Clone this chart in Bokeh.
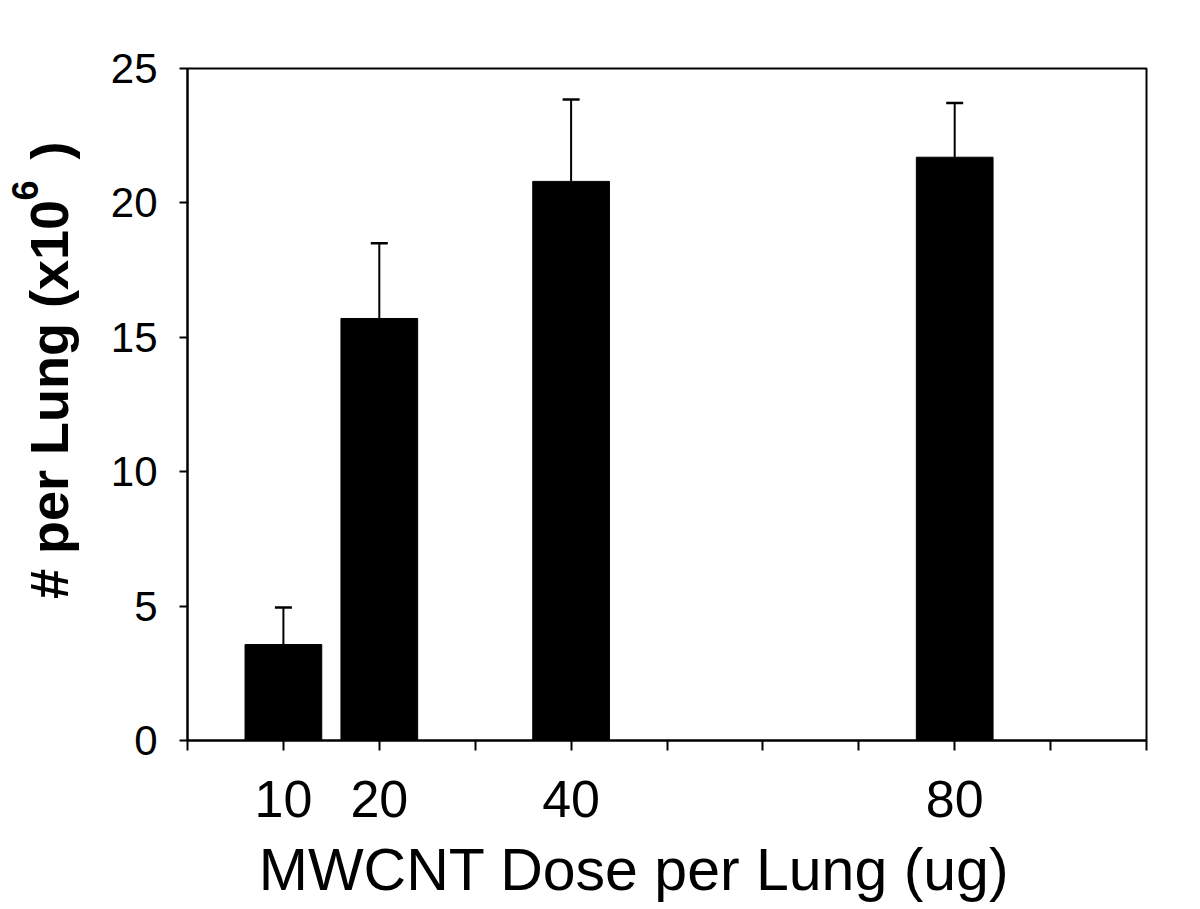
from bokeh.plotting import figure
from bokeh.layouts import row
from bokeh.models import Range1d, FixedTicker, Whisker, ColumnDataSource, TeeHead, Label
from bokeh.embed import file_html
from bokeh.resources import INLINE
import math

# Data
doses = [10, 20, 40, 80]
means = [3.57, 15.7, 20.8, 21.7]
upper = [4.95, 18.5, 23.85, 23.72]
x_ticks = [0, 10, 20, 30, 40, 50, 60, 70, 80, 90, 100]
x_labels = {0: "", 10: "10", 20: "20", 30: "", 40: "40", 50: "", 60: "", 70: "", 80: "80", 90: "", 100: ""}
y_ticks = [0, 5, 10, 15, 20, 25]
x_title = "MWCNT Dose per Lung (ug)"
y_title_main = "# per Lung (x10"
y_title_sup = "6"
y_title_end = ")"

src = ColumnDataSource(data=dict(x=doses, top=means, upper=upper))

FONT = "Liberation Sans"
H = 907
YW = 100
FRAME_TOP = 68
FRAME_BOTTOM = 740

# narrow panel holding the rotated y-axis title (with superscript);
# its frame is aligned with the main plot's frame, range set so that y = H - pixel row
yfig = figure(width=YW, height=H, output_backend="svg", toolbar_location=None,
              x_range=Range1d(0, YW), y_range=Range1d(H - FRAME_BOTTOM, H - FRAME_TOP),
              x_axis_location=None, y_axis_location=None,
              min_border=0, min_border_left=0, min_border_right=0,
              min_border_top=FRAME_TOP, min_border_bottom=H - FRAME_BOTTOM)
yfig.grid.visible = False
yfig.outline_line_color = None
yfig.background_fill_color = "white"
yfig.border_fill_color = "white"
yfig.add_layout(Label(x=48, y=H - 399, text=y_title_main, angle=math.pi / 2, text_font=FONT,
                      text_font_size="54px", text_font_style="bold", text_color="black",
                      text_align="center", text_baseline="middle"))
yfig.add_layout(Label(x=24, y=H - 190, text=y_title_sup, angle=math.pi / 2, text_font=FONT,
                      text_font_size="36px", text_font_style="bold", text_color="black",
                      text_align="center", text_baseline="middle"))
yfig.add_layout(Label(x=49, y=H - 150, text=y_title_end, angle=math.pi / 2, text_font=FONT,
                      text_font_size="54px", text_font_style="bold", text_color="black",
                      text_align="center", text_baseline="middle"))

p = figure(width=1184 - YW, height=H, output_backend="svg", toolbar_location=None,
           x_range=Range1d(0, 100), y_range=Range1d(0, 25),
           min_border_left=187 - YW, min_border_right=38,
           min_border_top=FRAME_TOP, min_border_bottom=H - FRAME_BOTTOM)

p.vbar(x="x", top="top", bottom=0, width=8, source=src, fill_color="black", line_color="black")

w = Whisker(base="x", lower="top", upper="upper", source=src, dimension="height",
            line_color="black", line_width=2,
            upper_head=TeeHead(size=17, line_color="black", line_width=2.5), lower_head=None)
p.add_layout(w)

p.grid.visible = False
p.outline_line_color = "black"
p.outline_line_width = 2
p.background_fill_color = "white"
p.border_fill_color = "white"

xa = p.xaxis[0]
xa.ticker = FixedTicker(ticks=x_ticks)
xa.major_label_overrides = x_labels
xa.minor_tick_line_color = None
xa.major_tick_in = 0
xa.major_tick_out = 10
xa.major_tick_line_width = 2
xa.axis_line_width = 2
xa.axis_line_color = "black"
xa.major_label_text_font = FONT
xa.major_label_text_font_size = "52px"
xa.major_label_text_color = "black"
xa.major_label_standoff = 30
xa.axis_label = x_title + "\u00a0" * 4
xa.axis_label_text_font = FONT
xa.axis_label_text_font_size = "59px"
xa.axis_label_text_font_style = "normal"
xa.axis_label_text_color = "black"
xa.axis_label_standoff = 17

ya = p.yaxis[0]
ya.ticker = FixedTicker(ticks=y_ticks)
ya.minor_tick_line_color = None
ya.major_tick_in = 0
ya.major_tick_out = 8
ya.major_tick_line_width = 2
ya.axis_line_width = 2
ya.axis_line_color = "black"
ya.major_label_text_font = FONT
ya.major_label_text_font_size = "42px"
ya.major_label_text_color = "black"
ya.major_label_standoff = 22

layout = row(yfig, p, spacing=0)

open("out.html", "w").write(file_html(layout, INLINE))
